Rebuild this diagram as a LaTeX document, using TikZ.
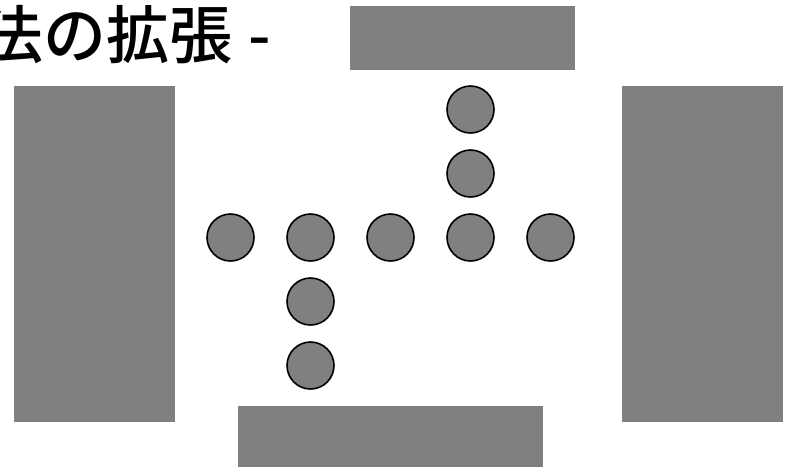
\documentclass[tikz,border=0pt]{standalone}
\usepackage{fontspec}
\newfontfamily\cjk{Noto Sans CJK JP Medium}
\definecolor{boxgray}{HTML}{808080}
\begin{document}
\begin{tikzpicture}[x=1pt,y=-1pt,
  blockbox/.style={fill=boxgray,draw=none},
  ball/.style={circle,fill=boxgray,draw=black,line width=1.6pt,minimum size=47pt,inner sep=0pt}]
\useasboundingbox (0,0) rectangle (791,467);
\clip (0,0) rectangle (791,467);
\node[anchor=base west,inner sep=0pt,font=\cjk\fontsize{63}{75}\selectfont] (title) at (-20,58) {法の拡張 \hspace{2pt}-};
\fill[blockbox] (350,6) rectangle (575,70);
\fill[blockbox] (14,86) rectangle (175,422);
\fill[blockbox] (622,86) rectangle (783,422);
\fill[blockbox] (238,406) rectangle (543,467);
\node[ball] (c1) at (230.5,237.5) {};
\node[ball] (c2) at (310.5,237.5) {};
\node[ball] (c3) at (390.5,237.5) {};
\node[ball] (c4) at (470.5,237.5) {};
\node[ball] (c5) at (550.5,237.5) {};
\node[ball] (u1) at (470.5,173.5) {};
\node[ball] (u2) at (470.5,109.5) {};
\node[ball] (d1) at (310.5,301.5) {};
\node[ball] (d2) at (310.5,365.5) {};
\end{tikzpicture}
\end{document}
